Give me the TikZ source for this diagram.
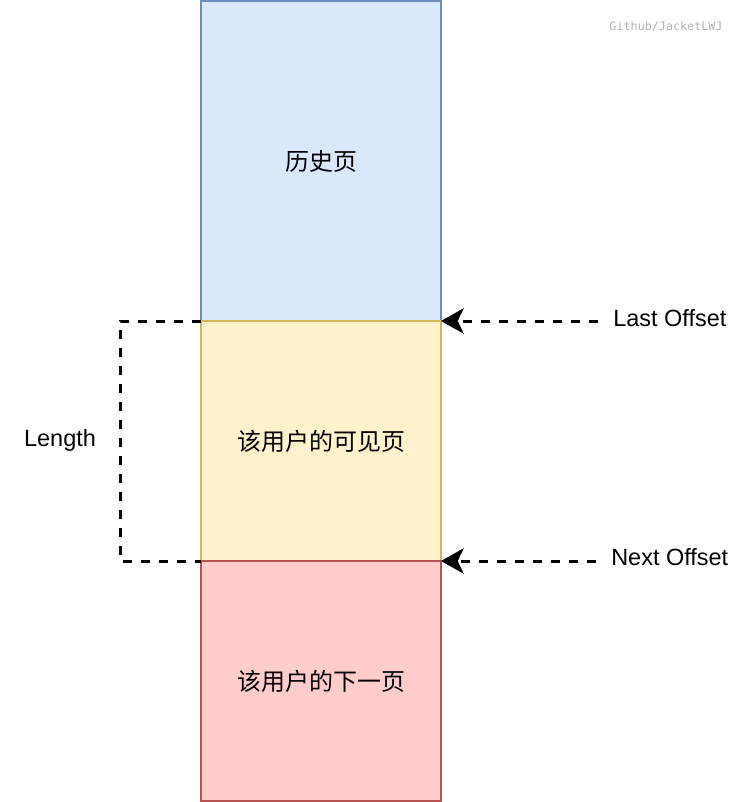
\documentclass[tikz,border=0pt]{standalone}
\usepackage{fontspec}
\setmainfont{Liberation Sans}
\setmonofont{DejaVu Sans Mono}
\newfontfamily\cjk{Noto Sans CJK SC}
\usetikzlibrary{arrows.meta,positioning,calc}
\definecolor{histfill}{HTML}{DAE8FC}
\definecolor{histline}{HTML}{6C8EBF}
\definecolor{visfill}{HTML}{FFF2CC}
\definecolor{visline}{HTML}{D6B656}
\definecolor{nextfill}{HTML}{FFCCCC}
\definecolor{nextline}{HTML}{B85450}
\definecolor{markgray}{HTML}{B3B3B3}

\tikzset{
  page/.style={draw, line width=1.5pt, minimum width=180pt, inner sep=0pt, outer sep=0pt,
    font=\cjk\fontsize{18}{21}\selectfont},
  lbl/.style={inner sep=0pt, font=\fontsize{17.6}{21}\selectfont},
  dashline/.style={line width=2.25pt, dash pattern=on 6.75pt off 6.75pt},
  offarrow/.style={dashline, -{Stealth[length=17pt, width=19pt, inset=4.5pt]}, shorten <=11pt}
}

\begin{document}
\begin{tikzpicture}[x=0.75pt, y=-0.75pt]
    \useasboundingbox (0,0) rectangle (742,802);

    % The three pages, stacked
    \node[page, minimum height=240pt, fill=histfill, draw=histline] (hist) at (321,161) {历史页};
    \node[page, minimum height=180pt, fill=visfill, draw=visline, below=0pt of hist] (visible) {该用户的可见页};
    \node[page, minimum height=180pt, fill=nextfill, draw=nextline, below=0pt of visible] (nextpg) {该用户的下一页};

    % Offset labels on the right
    \node[lbl, anchor=west] (lastoff) at (613,318) {Last Offset};
    \node[lbl, anchor=west] (nextoff) at (611,557) {Next Offset};
    \draw[offarrow] (lastoff.west |- visible.north east) -- (visible.north east);
    \draw[offarrow] (nextoff.west |- visible.south east) -- (visible.south east);

    % Length bracket on the left
    \coordinate (lentop) at (120,321);
    \draw[dashline] (visible.north west) -- (lentop) |- (visible.south west);
    \node[lbl] (length) at (60,440) {Length};

    % watermark
    \node[text=markgray, font=\ttfamily\fontsize{8.8}{10}\selectfont] (mark) at (666,27) {Github/JacketLWJ};

\end{tikzpicture}
\end{document}
